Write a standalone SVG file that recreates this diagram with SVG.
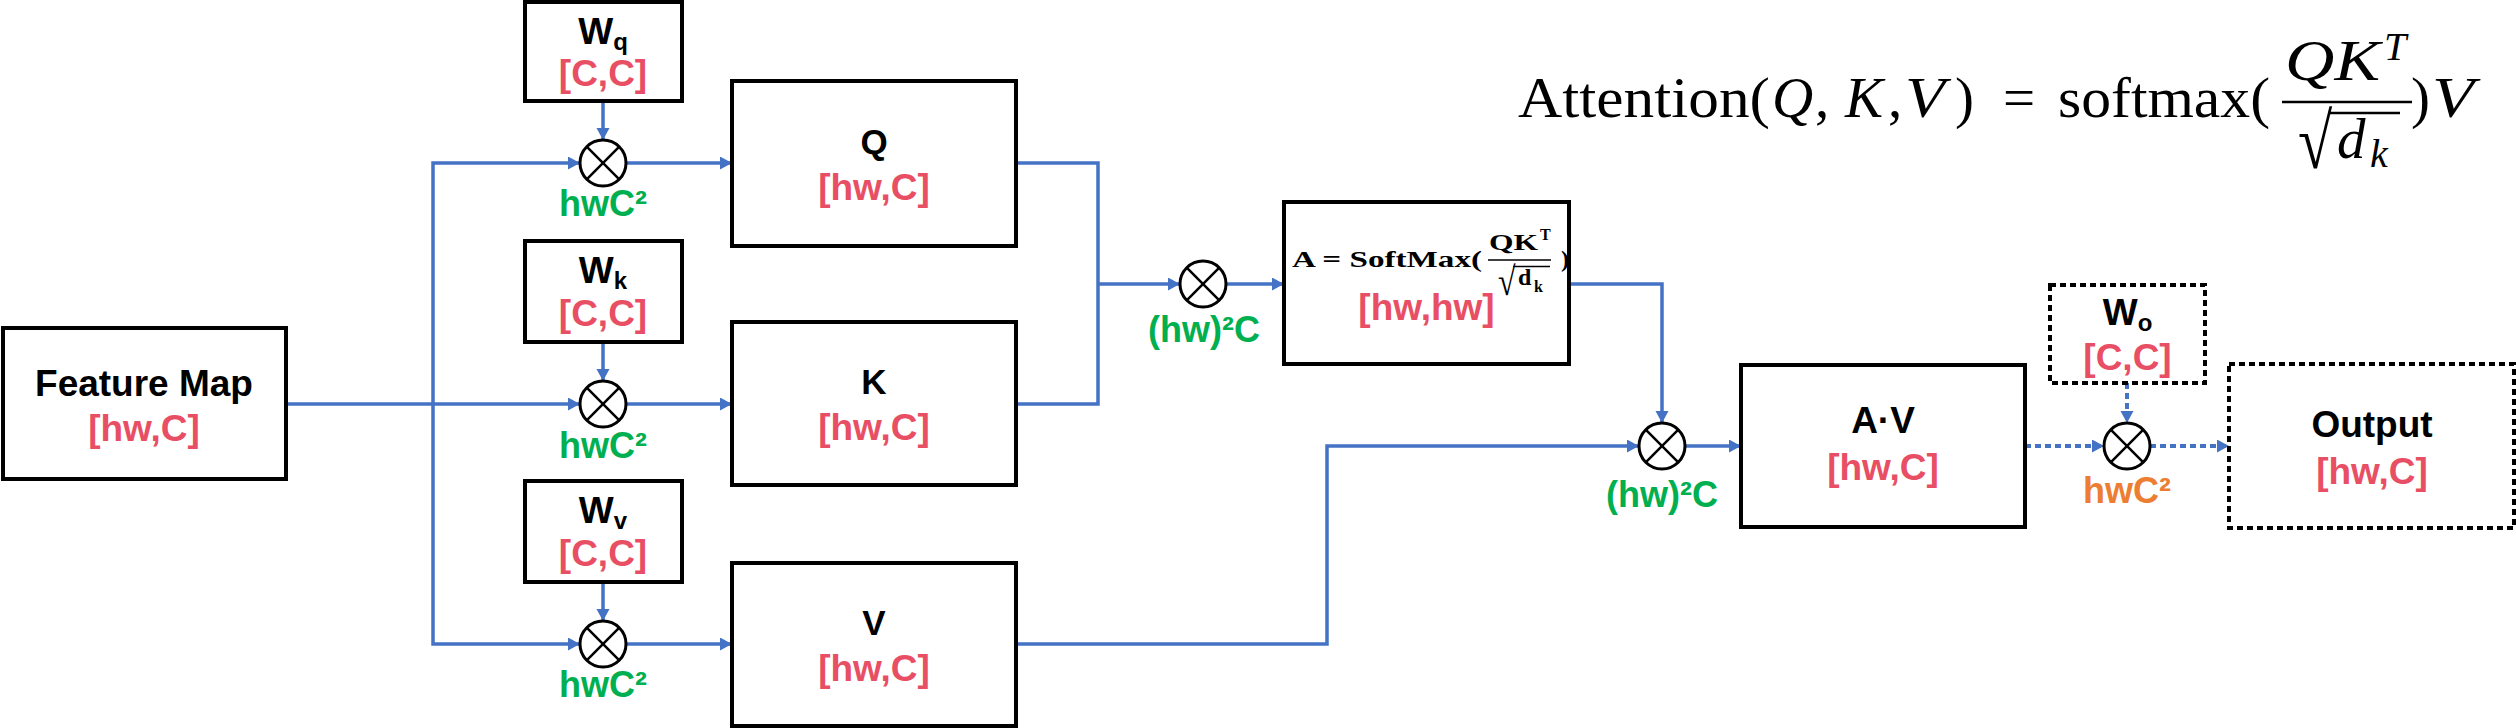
<svg xmlns="http://www.w3.org/2000/svg" width="2516" height="728" viewBox="0 0 2516 728">
<style>
.box{fill:#fff;stroke:#000;stroke-width:4}
.dbox{fill:#fff;stroke:#000;stroke-width:4;stroke-dasharray:6 4}
.lbl{font-family:"Liberation Sans",Arial,sans-serif;font-weight:bold;text-anchor:middle}
.blk{fill:#000;font-size:37px}
.qkv{fill:#000;font-size:35px}
.red{fill:#E84F64;font-size:37px}
.grn{fill:#00B050;font-size:36px}
.org{fill:#ED7D31;font-size:36px}
.con{fill:none;stroke:#4472C4;stroke-width:3.5}
.dcon{fill:none;stroke:#4472C4;stroke-width:4;stroke-dasharray:6 4}
.mul circle{fill:#fff;stroke:#000;stroke-width:3}
.mul line{stroke:#000;stroke-width:2.5}
.math{font-family:"Liberation Serif","Times New Roman",serif;fill:#000}
</style>
<defs>
<marker id="arr" markerUnits="userSpaceOnUse" markerWidth="13" markerHeight="14" refX="12" refY="6.5" orient="auto">
<path d="M0,0 L12,6.5 L0,13 z" fill="#4472C4"/>
</marker>
</defs>

<g id="connectors">
<path class="con" d="M286,404 H580" marker-end="url(#arr)"/>
<path class="con" d="M433,404 V163 H580" marker-end="url(#arr)"/>
<path class="con" d="M433,404 V644 H580" marker-end="url(#arr)"/>
<path class="con" d="M603,101 V140" marker-end="url(#arr)"/>
<path class="con" d="M603,342 V381" marker-end="url(#arr)"/>
<path class="con" d="M603,582 V621" marker-end="url(#arr)"/>
<path class="con" d="M626,163 H732" marker-end="url(#arr)"/>
<path class="con" d="M626,404 H732" marker-end="url(#arr)"/>
<path class="con" d="M626,644 H732" marker-end="url(#arr)"/>
<path class="con" d="M1016,163 H1098 V404 H1016"/>
<path class="con" d="M1098,284 H1180" marker-end="url(#arr)"/>
<path class="con" d="M1226,284 H1284" marker-end="url(#arr)"/>
<path class="con" d="M1569,284 H1662 V423" marker-end="url(#arr)"/>
<path class="con" d="M1016,644 H1327 V446 H1639" marker-end="url(#arr)"/>
<path class="con" d="M1685,446 H1741" marker-end="url(#arr)"/>
<path class="dcon" d="M2025,446 H2104" marker-end="url(#arr)"/>
<path class="dcon" d="M2150,446 H2229" marker-end="url(#arr)"/>
<path class="dcon" d="M2127,383 V423" marker-end="url(#arr)"/>
</g>

<g id="feature-map">
<rect class="box" x="3" y="328" width="283" height="151"/>
<text class="lbl blk" x="144" y="396">Feature Map</text>
<text class="lbl red" x="144" y="441">[hw,C]</text>
</g>

<g id="wq">
<rect class="box" x="525" y="2" width="157" height="99"/>
<text class="lbl blk" x="603" y="44">W<tspan font-size="24" dy="6">q</tspan></text>
<text class="lbl red" x="603" y="86">[C,C]</text>
</g>
<g id="wk">
<rect class="box" x="525" y="241" width="157" height="101"/>
<text class="lbl blk" x="603" y="283">W<tspan font-size="24" dy="6">k</tspan></text>
<text class="lbl red" x="603" y="326">[C,C]</text>
</g>
<g id="wv">
<rect class="box" x="525" y="481" width="157" height="101"/>
<text class="lbl blk" x="603" y="523">W<tspan font-size="24" dy="6">v</tspan></text>
<text class="lbl red" x="603" y="566">[C,C]</text>
</g>

<g id="mul-q" class="mul">
<circle cx="603" cy="163" r="23"/>
<line x1="586.7" y1="146.7" x2="619.3" y2="179.3"/><line x1="619.3" y1="146.7" x2="586.7" y2="179.3"/>
<text class="lbl grn" x="603" y="216">hwC²</text>
</g>
<g id="mul-k" class="mul">
<circle cx="603" cy="404" r="23"/>
<line x1="586.7" y1="387.7" x2="619.3" y2="420.3"/><line x1="619.3" y1="387.7" x2="586.7" y2="420.3"/>
<text class="lbl grn" x="603" y="458">hwC²</text>
</g>
<g id="mul-v" class="mul">
<circle cx="603" cy="644" r="23"/>
<line x1="586.7" y1="627.7" x2="619.3" y2="660.3"/><line x1="619.3" y1="627.7" x2="586.7" y2="660.3"/>
<text class="lbl grn" x="603" y="697">hwC²</text>
</g>

<g id="q">
<rect class="box" x="732" y="81" width="284" height="165"/>
<text class="lbl qkv" x="874" y="154">Q</text>
<text class="lbl red" x="874" y="200">[hw,C]</text>
</g>
<g id="k">
<rect class="box" x="732" y="322" width="284" height="163"/>
<text class="lbl qkv" x="874" y="394">K</text>
<text class="lbl red" x="874" y="440">[hw,C]</text>
</g>
<g id="v">
<rect class="box" x="732" y="563" width="284" height="163"/>
<text class="lbl qkv" x="874" y="635">V</text>
<text class="lbl red" x="874" y="681">[hw,C]</text>
</g>

<g id="mul-qk" class="mul">
<circle cx="1203" cy="284" r="23"/>
<line x1="1186.7" y1="267.7" x2="1219.3" y2="300.3"/><line x1="1219.3" y1="267.7" x2="1186.7" y2="300.3"/>
<text class="lbl grn" x="1204" y="342">(hw)²C</text>
</g>

<g id="attn-matrix">
<rect class="box" x="1284" y="202" width="285" height="162"/>
<text class="math" x="1292" y="267" font-size="24" font-weight="bold" textLength="190" lengthAdjust="spacingAndGlyphs">A = SoftMax(</text>
<text class="math" x="1489" y="250" font-size="24" font-weight="bold" textLength="49" lengthAdjust="spacingAndGlyphs">QK</text>
<text class="math" x="1540" y="240" font-size="16" font-weight="bold">T</text>
<line x1="1488" y1="260" x2="1551" y2="260" stroke="#000" stroke-width="1.5"/>
<text class="math" transform="translate(1498,295) scale(0.8,1)" font-size="40">√</text>
<line x1="1513" y1="266.5" x2="1550" y2="266.5" stroke="#000" stroke-width="1.5"/>
<text class="math" x="1518" y="285" font-size="24" font-weight="bold">d</text>
<text class="math" x="1534" y="292" font-size="16" font-weight="bold">k</text>
<text class="math" x="1561" y="267" font-size="24" font-weight="bold">)</text>
<text class="lbl red" x="1426.5" y="320">[hw,hw]</text>
</g>

<g id="mul-av" class="mul">
<circle cx="1662" cy="446" r="23"/>
<line x1="1645.7" y1="429.7" x2="1678.3" y2="462.3"/><line x1="1678.3" y1="429.7" x2="1645.7" y2="462.3"/>
<text class="lbl grn" x="1662" y="507">(hw)²C</text>
</g>

<g id="av">
<rect class="box" x="1741" y="365" width="284" height="162"/>
<text class="lbl blk" x="1883" y="433">A·V</text>
<text class="lbl red" x="1883" y="480">[hw,C]</text>
</g>

<g id="wo">
<rect class="dbox" x="2050" y="285" width="155" height="98"/>
<text class="lbl blk" x="2127.5" y="325">W<tspan font-size="24" dy="6">o</tspan></text>
<text class="lbl red" x="2127.5" y="370">[C,C]</text>
</g>

<g id="mul-o" class="mul">
<circle cx="2127" cy="446" r="23"/>
<line x1="2110.7" y1="429.7" x2="2143.3" y2="462.3"/><line x1="2143.3" y1="429.7" x2="2110.7" y2="462.3"/>
<text class="lbl org" x="2127" y="503">hwC²</text>
</g>

<g id="output">
<rect class="dbox" x="2229" y="364" width="285" height="164"/>
<text class="lbl blk" x="2372" y="437">Output</text>
<text class="lbl red" x="2372" y="484">[hw,C]</text>
</g>

<g id="attention-formula">
<text class="math" x="1518" y="117" font-size="57" textLength="252" lengthAdjust="spacingAndGlyphs">Attention(</text>
<text class="math" x="1772" y="117" font-size="57" font-style="italic">Q</text>
<text class="math" x="1815" y="117" font-size="57">,</text>
<text class="math" x="1845" y="117" font-size="57" font-style="italic">K</text>
<text class="math" x="1888" y="117" font-size="57">,</text>
<text class="math" x="1905" y="117" font-size="57" font-style="italic" textLength="40" lengthAdjust="spacingAndGlyphs">V</text>
<text class="math" x="1955" y="117" font-size="57">)</text>
<text class="math" x="2003" y="117" font-size="57">=</text>
<text class="math" x="2058" y="117" font-size="57" textLength="212" lengthAdjust="spacingAndGlyphs">softmax(</text>
<text class="math" x="2285" y="80" font-size="57" font-style="italic" textLength="95" lengthAdjust="spacingAndGlyphs">QK</text>
<text class="math" x="2384" y="60" font-size="40" font-style="italic">T</text>
<line x1="2282" y1="102" x2="2412" y2="102" stroke="#000" stroke-width="2.5"/>
<text class="math" transform="translate(2298,168) scale(0.8,1)" font-size="78">√</text>
<line x1="2328" y1="113" x2="2400" y2="113" stroke="#000" stroke-width="2.5"/>
<text class="math" x="2337" y="158" font-size="57" font-style="italic">d</text>
<text class="math" x="2370" y="167" font-size="40" font-style="italic">k</text>
<text class="math" x="2411" y="117" font-size="57">)</text>
<text class="math" x="2432" y="117" font-size="57" font-style="italic" textLength="42" lengthAdjust="spacingAndGlyphs">V</text>
</g>
</svg>
